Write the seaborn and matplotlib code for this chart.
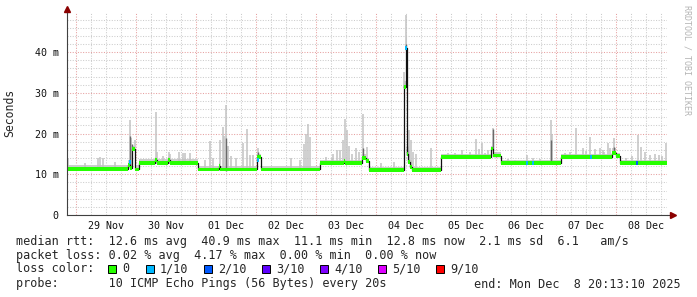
import numpy as np
import pandas as pd
import matplotlib
matplotlib.use("Agg")
import matplotlib.pyplot as plt
import matplotlib.dates as mdates
import seaborn as sns
from matplotlib.patches import Rectangle
from matplotlib.ticker import MultipleLocator, FuncFormatter, NullFormatter

YEAR = "2025-"
START = "2025-11-28 20:13:10"
END = "2025-12-08 20:13:10"

# median rtt (ms), step changes
med_time = ["11-28 20:13", "11-29 20:48", "11-29 21:24", "11-29 22:24", "11-29 23:36",
            "11-30 01:05", "11-30 07:36", "11-30 08:12", "11-30 12:48", "11-30 13:24",
            "12-01 00:42", "12-01 09:12", "12-01 09:36", "12-02 00:24", "12-02 02:00",
            "12-03 01:36", "12-03 11:12", "12-03 11:36", "12-03 18:24", "12-03 20:00",
            "12-03 20:55", "12-04 11:12", "12-04 11:48", "12-04 12:12", "12-04 12:48",
            "12-04 13:36", "12-04 14:24", "12-05 01:54", "12-05 21:48", "12-05 22:48",
            "12-06 01:42", "12-07 01:42", "12-07 22:24", "12-08 00:00", "12-08 01:36",
            "12-08 20:13"]
med_val = [11.3, 12.2, 11.5, 16.2, 11.2,
           12.8, 13.5, 12.8, 13.5, 12.8,
           11.2, 12.0, 11.2, 14.3, 11.2,
           12.8, 13.3, 12.8, 14.0, 13.2,
           11.1, 31.5, 40.9, 15.0, 13.0,
           11.8, 11.1, 14.3, 16.3, 14.6,
           12.85, 14.3, 15.2, 14.5, 12.7,
           12.7]
# top of the thin smoke band around the median (ms)
smoke_hi = [12.2, 13.5, 12.5, 17.0, 12.2,
            13.7, 14.3, 13.7, 14.3, 13.7,
            12.1, 12.8, 12.1, 15.0, 12.1,
            13.6, 14.0, 13.6, 15.0, 14.0,
            11.9, 33.0, 44.0, 19.0, 16.0,
            13.5, 11.9, 15.0, 17.0, 15.5,
            13.5, 15.0, 16.5, 15.3, 13.4,
            13.4]

# light smoke spikes (max ping)
spike_time = ["11-28 20:42", "11-29 03:36", "11-29 08:48", "11-29 09:36", "11-29 10:48",
              "11-29 15:36", "11-29 21:18", "11-29 22:00", "11-29 23:18", "11-30 07:42",
              "11-30 08:24", "11-30 10:48", "11-30 12:54", "11-30 13:36", "11-30 16:54",
              "11-30 18:42", "11-30 19:36", "11-30 21:36", "12-01 03:36", "12-01 05:24",
              "12-01 06:48", "12-01 09:36", "12-01 10:36", "12-01 11:12", "12-01 12:00",
              "12-01 12:48", "12-01 14:00", "12-01 16:00", "12-01 18:36", "12-01 20:12",
              "12-01 21:36", "12-01 22:48", "12-02 00:48", "12-02 14:00", "12-02 17:36",
              "12-02 19:12", "12-02 19:48", "12-02 20:48", "12-02 21:36", "12-03 04:00",
              "12-03 06:12", "12-03 06:48", "12-03 08:24", "12-03 09:36", "12-03 10:42",
              "12-03 11:36", "12-03 12:24", "12-03 13:12", "12-03 14:24", "12-03 16:00",
              "12-03 17:12", "12-03 18:42", "12-03 20:12", "12-04 02:00", "12-04 07:12",
              "12-04 11:12", "12-04 11:48", "12-04 13:00", "12-04 13:48", "12-04 14:48",
              "12-04 16:00", "12-04 21:48", "12-05 04:48", "12-05 07:36", "12-05 10:24",
              "12-05 13:18", "12-05 15:42", "12-05 17:12", "12-05 18:24", "12-05 19:36",
              "12-05 20:36", "12-05 22:42", "12-06 00:00", "12-06 04:48", "12-06 07:36",
              "12-06 12:12", "12-06 14:42", "12-06 17:36", "12-06 21:48", "12-06 22:24",
              "12-07 03:36", "12-07 05:36", "12-07 08:00", "12-07 10:42", "12-07 12:00",
              "12-07 13:36", "12-07 15:36", "12-07 17:18", "12-07 18:48", "12-07 19:12",
              "12-07 20:42", "12-07 21:36", "12-07 23:12", "12-08 04:00", "12-08 06:24",
              "12-08 08:42", "12-08 10:00", "12-08 11:36", "12-08 13:36", "12-08 15:36",
              "12-08 17:12", "12-08 18:24", "12-08 19:48"]
spike_top = [13.9, 12.8, 14.0, 14.3, 14.0,
             12.9, 23.3, 19.0, 18.4, 25.4,
             15.5, 14.6, 15.5, 15.0, 15.5,
             15.3, 15.3, 15.3, 13.6, 18.2,
             14.0, 18.4, 21.7, 19.5, 27.0,
             17.0, 14.5, 14.0, 17.6, 21.0,
             14.7, 14.7, 16.5, 13.9, 13.5,
             17.5, 20.0, 22.3, 19.2, 14.2,
             14.0, 15.0, 16.0, 16.0, 18.4,
             23.5, 20.9, 17.0, 15.0, 16.5,
             15.5, 24.7, 16.8, 12.7, 13.0,
             35.0, 49.2, 20.9, 18.4, 15.5,
             15.0, 16.4, 15.3, 15.2, 16.0,
             15.5, 18.6, 16.2, 17.6, 15.2,
             16.0, 21.4, 15.5, 13.8, 13.6,
             14.7, 14.0, 13.8, 23.3, 20.0,
             15.3, 15.5, 21.3, 16.4, 15.8,
             19.2, 16.2, 16.4, 16.0, 15.5,
             17.6, 16.5, 18.8, 14.0, 14.5,
             19.6, 16.8, 15.5, 14.8, 15.0,
             14.7, 14.5, 17.6]

# darker inner smoke
dark_time = ["11-29 21:18", "11-29 22:24", "12-01 12:00", "12-02 00:48", "12-03 18:42",
             "12-04 11:12", "12-04 11:48", "12-04 12:24", "12-05 22:42", "12-06 21:48",
             "12-07 23:12"]
dark_top = [19.5, 17.5, 19.0, 15.5, 16.5, 32.0, 42.0, 17.0, 21.0, 18.5, 16.8]

# packet loss marks on the median
loss_time = ["11-29 21:18", "12-02 00:42", "12-04 11:48", "12-06 12:24", "12-06 14:42",
             "12-07 14:00", "12-08 08:18"]
loss_val = [13.0, 13.5, 40.9, 12.85, 12.85, 14.3, 12.7]
loss_level = [1, 1, 1, 1, 1, 1, 2]

loss_labels = ["0", "1/10", "2/10", "3/10", "4/10", "5/10", "9/10"]
loss_colors = ["#26ff00", "#00b8ff", "#0059ff", "#5e00ff", "#7e00ff", "#dd00ff", "#ff0000"]

y_ticks = [0, 10, 20, 30, 40]

stats_rtt = "median rtt:  12.6 ms avg  40.9 ms max  11.1 ms min  12.8 ms now  2.1 ms sd  6.1   am/s"
stats_loss = "packet loss: 0.02 % avg  4.17 % max  0.00 % min  0.00 % now"
probe_txt = "probe:       10 ICMP Echo Pings (56 Bytes) every 20s"
end_txt = "end: Mon Dec  8 20:13:10 2025"

# ---------------------------------------------------------------
def ts(lst):
    return pd.to_datetime([YEAR + t for t in lst])

sns.set_theme(style="white")
plt.rcParams["font.family"] = ["DejaVu Sans Mono", "DejaVu Sans"]

W, H = 697, 297
fig = plt.figure(figsize=(W / 100, H / 100), dpi=100)
L, R, T, B = 67, 667, 13, 215
ax = fig.add_axes([L / W, (H - B) / H, (R - L) / W, (B - T) / H])
ax.set_facecolor("white")

mt = ts(med_time)
mv = np.array(med_val)
sh = np.array(smoke_hi)

# thin smoke band
ax.fill_between(mt, mv - 0.3, sh, step="post", color="#cdcdcd", lw=0, zorder=2)

# smoke spikes
def med_at(times):
    idx = np.searchsorted(mt.values, times.values, side="right") - 1
    return mv[np.clip(idx, 0, len(mv) - 1)]

st = ts(spike_time)
ax.vlines(st, med_at(st) - 0.3, spike_top, color="#c2c2c2", lw=1.1, zorder=3)
dt = ts(dark_time)
ax.vlines(dt, med_at(dt) - 0.3, dark_top, color="#6a6a6a", lw=1.0, zorder=4)

# median line (black steps) + green loss band
df = pd.DataFrame({"t": mt, "rtt": mv})
sns.lineplot(data=df, x="t", y="rtt", ax=ax, color="#101010", lw=0.9,
             drawstyle="steps-post", estimator=None, legend=False, zorder=5)
ax.fill_between(mt, mv - 0.45, mv + 0.45, step="post", color=loss_colors[0], lw=0, zorder=6)

lt = ts(loss_time)
ax.vlines(lt, np.array(loss_val) - 0.5, np.array(loss_val) + 0.5,
          color=[loss_colors[i] for i in loss_level], lw=1.4, zorder=7)

ax.set_xlim(pd.Timestamp(START), pd.Timestamp(END))
ax.set_ylim(0, 49.6)

# grid
ax.xaxis.set_major_locator(mdates.DayLocator())
ax.xaxis.set_minor_locator(mdates.HourLocator(byhour=[6, 12, 18]))
ax.xaxis.set_major_formatter(NullFormatter())
ax.xaxis.set_minor_formatter(FuncFormatter(
    lambda v, p: mdates.num2date(v).strftime("%d %b") if mdates.num2date(v).hour == 12 else ""))
ax.yaxis.set_major_locator(MultipleLocator(10))
ax.yaxis.set_minor_locator(MultipleLocator(2))
ax.yaxis.set_major_formatter(FuncFormatter(lambda v, p: "0" if v == 0 else f"{int(v)} m"))
ax.set_yticks(y_ticks)

ax.set_axisbelow(True)
ax.grid(which="minor", color="#cccccc", ls=(0, (1, 1.5)), lw=0.75)
ax.grid(which="major", color="#e6a0a0", ls=(0, (1, 1.5)), lw=0.75)

ax.tick_params(axis="x", which="minor", length=0, pad=4, labelsize=7.2, labelcolor="#111111")
ax.tick_params(axis="x", which="major", length=2, color="#404040", direction="out")
ax.tick_params(axis="y", which="major", length=0, pad=6, labelsize=7.2, labelcolor="#111111")
ax.tick_params(axis="y", which="minor", length=0)
ax.set_xlabel("")
ax.set_ylabel("")

for s in ["top", "right"]:
    ax.spines[s].set_visible(False)
for s in ["left", "bottom"]:
    ax.spines[s].set_color("#404040")
    ax.spines[s].set_linewidth(0.8)
    ax.spines[s].set_zorder(8)

# axis extensions and arrows
ax.plot([1.0, 1.008], [0, 0], transform=ax.transAxes, color="#404040", lw=0.8, clip_on=False)
ax.plot([0, 0], [1.0, 1.015], transform=ax.transAxes, color="#404040", lw=0.8, clip_on=False)
ax.plot([1.01], [0], transform=ax.transAxes, marker=">", ms=4, color="#8b0000", clip_on=False)
ax.plot([0], [1.02], transform=ax.transAxes, marker="^", ms=4, color="#8b0000", clip_on=False)

# texts
fs = 8.5
fig.text(10 / W, (H - 113) / H, "Seconds", rotation=90, ha="center", va="center", fontsize=8.3)
fig.text(687 / W, (H - 60) / H, "RRDTOOL / TOBI OETIKER", rotation=270, ha="center",
         va="center", fontsize=6, color="#b4b4b4")

def fy(y):
    return (H - y) / H

fig.text(16 / W, fy(241), stats_rtt, ha="left", va="center", fontsize=fs)
fig.text(16 / W, fy(255), stats_loss, ha="left", va="center", fontsize=fs)
fig.text(16 / W, fy(269), "loss color:", ha="left", va="center", fontsize=fs)
box_left = [108, 146, 204, 262, 320, 378, 436]
for bx, lab, col in zip(box_left, loss_labels, loss_colors):
    fig.patches.append(Rectangle((bx / W, fy(273)), 8 / W, 8 / H, transform=fig.transFigure,
                                 facecolor=col, edgecolor="black", lw=0.7, figure=fig))
    fig.text((bx + 14) / W, fy(269), lab, ha="left", va="center", fontsize=fs)
fig.text(16 / W, fy(284), probe_txt, ha="left", va="center", fontsize=fs)
fig.text(681 / W, fy(284), end_txt, ha="right", va="center", fontsize=fs)

fig.savefig("out.png", dpi=100, facecolor="white")
